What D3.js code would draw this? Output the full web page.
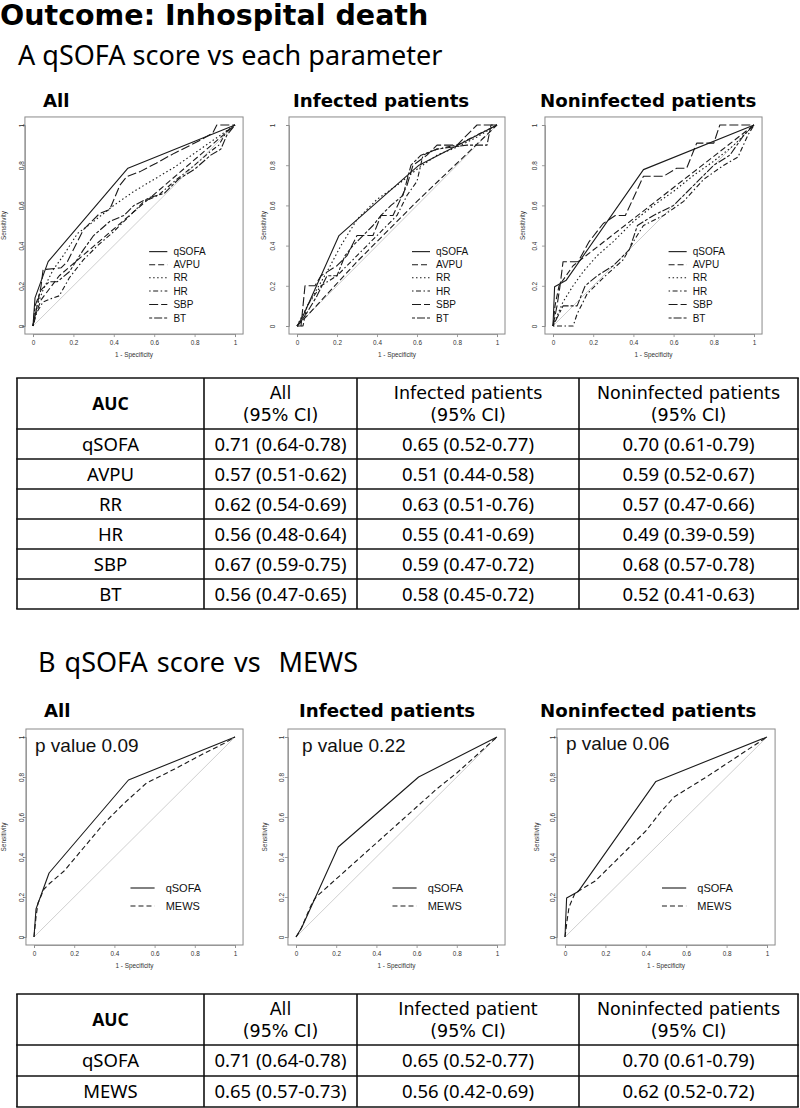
<!DOCTYPE html>
<html><head><meta charset="utf-8">
<script src="https://cdn.jsdelivr.net/npm/d3@7"></script>
<style>body{margin:0;background:#fff} svg{display:block}</style>
</head><body><svg id="c" width="800" height="1108"></svg>
<script>
// ---------------- DATA ----------------
const mainTitle = "Outcome: Inhospital death";
const titleA = "A qSOFA score vs each parameter";
const titleB = "B qSOFA score vs  MEWS";
const groups = ["All", "Infected patients", "Noninfected patients"];
const paramsA = ["qSOFA", "AVPU", "RR", "HR", "SBP", "BT"];
const paramsB = ["qSOFA", "MEWS"];
const pValuesB = ["p value 0.09", "p value 0.22", "p value 0.06"];
const tickValues = [0, 0.2, 0.4, 0.6, 0.8, 1];
const tickLabels = ["0", "0.2", "0.4", "0.6", "0.8", "1"];
const xAxisTitle = "1 - Specificity";
const yAxisTitle = "Sensitivity";

// ROC points: [1 - specificity, sensitivity]
// Panel A - All
const A_all_qSOFA = [[0,0],[0.01,0.14],[0.075,0.32],[0.47,0.785],[1,1]];
const A_all_AVPU  = [[0,0],[0.01,0.05],[0.04,0.13],[0.13,0.25],[1,1]];
const A_all_RR    = [[0,0],[0.02,0.1],[0.05,0.18],[0.1,0.28],[0.15,0.35],[0.22,0.46],[0.3,0.52],[0.4,0.6],[0.5,0.67],[0.6,0.73],[0.7,0.79],[0.8,0.86],[0.9,0.93],[1,1]];
const A_all_HR    = [[0,0],[0.02,0.07],[0.05,0.12],[0.1,0.14],[0.13,0.15],[0.18,0.24],[0.25,0.33],[0.32,0.4],[0.4,0.47],[0.5,0.57],[0.55,0.62],[0.62,0.65],[0.7,0.72],[0.8,0.8],[0.88,0.87],[0.92,0.9],[0.96,0.97],[1,1]];
const A_all_SBP   = [[0,0],[0.02,0.1],[0.04,0.2],[0.05,0.28],[0.14,0.29],[0.17,0.32],[0.25,0.48],[0.33,0.56],[0.38,0.58],[0.43,0.7],[0.464,0.743],[0.53,0.768],[0.61,0.81],[0.7,0.86],[0.83,0.925],[0.89,0.96],[0.91,1],[1,1]];
const A_all_BT    = [[0,0],[0.01,0.1],[0.04,0.18],[0.08,0.22],[0.12,0.22],[0.18,0.27],[0.25,0.38],[0.3,0.45],[0.38,0.52],[0.45,0.55],[0.5,0.6],[0.58,0.64],[0.65,0.66],[0.72,0.73],[0.8,0.78],[0.88,0.85],[0.93,0.88],[0.96,0.95],[1,1]];
// Panel A - Infected
const A_inf_qSOFA = [[0,0],[0.03,0.05],[0.21,0.45],[0.61,0.8],[1,1]];
const A_inf_AVPU  = [[0,0],[0.05,0.05],[0.3,0.32],[0.6,0.62],[1,1]];
const A_inf_RR    = [[0,0],[0.03,0.06],[0.08,0.15],[0.15,0.27],[0.22,0.4],[0.3,0.53],[0.4,0.63],[0.5,0.7],[0.6,0.78],[0.7,0.85],[0.8,0.89],[0.9,0.94],[1,1]];
const A_inf_HR    = [[0,0],[0.03,0],[0.05,0.1],[0.12,0.2],[0.2,0.25],[0.3,0.35],[0.4,0.45],[0.45,0.5],[0.5,0.55],[0.55,0.65],[0.6,0.72],[0.63,0.85],[0.7,0.88],[0.8,0.9],[0.9,0.95],[1,1]];
const A_inf_SBP   = [[0,0],[0.02,0],[0.04,0.2],[0.09,0.2],[0.12,0.25],[0.2,0.3],[0.25,0.35],[0.3,0.45],[0.38,0.45],[0.42,0.55],[0.48,0.55],[0.55,0.7],[0.58,0.8],[0.65,0.85],[0.7,0.9],[0.8,0.9],[0.9,1],[1,1]];
const A_inf_BT    = [[0,0],[0.04,0.05],[0.1,0.15],[0.15,0.25],[0.2,0.25],[0.24,0.35],[0.28,0.4],[0.33,0.45],[0.38,0.5],[0.42,0.55],[0.47,0.6],[0.53,0.65],[0.57,0.8],[0.62,0.85],[0.7,0.88],[0.85,0.9],[0.95,0.9],[0.97,1],[1,1]];
// Panel A - Noninfected
const A_non_qSOFA = [[0,0],[0.008,0.195],[0.066,0.228],[0.45,0.778],[1,1]];
const A_non_AVPU  = [[0,0],[0.01,0.1],[0.03,0.2],[0.1,0.3],[1,1]];
const A_non_RR    = [[0,0],[0.02,0.05],[0.05,0.12],[0.1,0.2],[0.15,0.27],[0.22,0.35],[0.3,0.42],[0.4,0.52],[0.5,0.6],[0.6,0.67],[0.7,0.75],[0.8,0.82],[0.9,0.9],[1,1]];
const A_non_HR    = [[0,0],[0.1,0],[0.12,0.06],[0.17,0.16],[0.25,0.24],[0.35,0.33],[0.4,0.42],[0.45,0.5],[0.55,0.55],[0.65,0.62],[0.75,0.73],[0.85,0.8],[0.92,0.84],[0.97,0.95],[1,1]];
const A_non_SBP   = [[0,0],[0.02,0.1],[0.035,0.2],[0.05,0.32],[0.125,0.32],[0.18,0.42],[0.25,0.51],[0.31,0.55],[0.36,0.55],[0.45,0.745],[0.55,0.745],[0.615,0.785],[0.665,0.785],[0.715,0.91],[0.8,0.91],[0.83,1],[1,1]];
const A_non_BT    = [[0,0],[0.05,0.1],[0.12,0.1],[0.16,0.2],[0.22,0.25],[0.3,0.3],[0.38,0.38],[0.42,0.5],[0.5,0.55],[0.6,0.6],[0.7,0.7],[0.8,0.8],[0.88,0.85],[0.95,0.95],[1,1]];
// Panel B
const B_all_qSOFA = [[0,0],[0.01,0.14],[0.075,0.32],[0.47,0.785],[1,1]];
const B_all_MEWS  = [[0,0],[0.01,0.1],[0.02,0.17],[0.05,0.24],[0.08,0.27],[0.15,0.33],[0.25,0.45],[0.35,0.57],[0.45,0.67],[0.56,0.77],[0.7,0.84],[0.85,0.92],[0.95,0.97],[1,1]];
const B_inf_qSOFA = [[0,0],[0.03,0.05],[0.21,0.45],[0.61,0.8],[1,1]];
const B_inf_MEWS  = [[0,0],[0.02,0.03],[0.05,0.1],[0.08,0.17],[0.1,0.2],[0.2,0.29],[0.3,0.38],[0.4,0.47],[0.5,0.56],[0.6,0.65],[0.7,0.74],[0.8,0.82],[0.9,0.91],[1,1]];
const B_non_qSOFA = [[0,0],[0.008,0.195],[0.066,0.228],[0.45,0.778],[1,1]];
const B_non_MEWS  = [[0,0],[0.01,0.08],[0.02,0.15],[0.05,0.22],[0.1,0.25],[0.15,0.28],[0.2,0.33],[0.3,0.43],[0.4,0.53],[0.47,0.62],[0.54,0.7],[0.7,0.8],[0.85,0.9],[1,1]];

// Tables
const tableHeaderA = ["AUC", "All", "Infected patients", "Noninfected patients"];
const tableHeaderB = ["AUC", "All", "Infected patient", "Noninfected patients"];
const ciLabel = "(95% CI)";
const tableA_all = ["0.71 (0.64-0.78)","0.57 (0.51-0.62)","0.62 (0.54-0.69)","0.56 (0.48-0.64)","0.67 (0.59-0.75)","0.56 (0.47-0.65)"];
const tableA_inf = ["0.65 (0.52-0.77)","0.51 (0.44-0.58)","0.63 (0.51-0.76)","0.55 (0.41-0.69)","0.59 (0.47-0.72)","0.58 (0.45-0.72)"];
const tableA_non = ["0.70 (0.61-0.79)","0.59 (0.52-0.67)","0.57 (0.47-0.66)","0.49 (0.39-0.59)","0.68 (0.57-0.78)","0.52 (0.41-0.63)"];
const tableB_all = ["0.71 (0.64-0.78)","0.65 (0.57-0.73)"];
const tableB_inf = ["0.65 (0.52-0.77)","0.56 (0.42-0.69)"];
const tableB_non = ["0.70 (0.61-0.79)","0.62 (0.52-0.72)"];

// ---------------- STYLE / LAYOUT ----------------
const dashes = {qSOFA:null, AVPU:"6,3", RR:"1.5,2.5", HR:"1.5,2.5,5,2.5", SBP:"9,3", BT:"3,2,8,2", MEWS:"5,3"};
const lineColor = "#1a1a1a";
const FT = "'DejaVu Sans', sans-serif";
const FN = "'Noto Sans', sans-serif";
const FR = "'Liberation Sans', Arial, sans-serif";

const svg = d3.select("#c");

svg.append("text").attr("x",0).attr("y",25).attr("font-family",FT).attr("font-weight","bold")
  .attr("font-size",28.5).attr("fill","#000").text(mainTitle);
svg.append("text").attr("x",18).attr("y",65).attr("font-family",FN)
  .attr("font-size",27).attr("fill","#000").text(titleA);
svg.append("text").attr("x",38).attr("y",672).attr("font-family",FN).style("white-space","pre")
  .attr("font-size",27).attr("word-spacing",2).attr("fill","#000").text(titleB);

const panelsA = [
  {x0:33, x1:235, y0:326, y1:125, titleX:43, titleY:107, yLab:22, sensX:4, data:{qSOFA:A_all_qSOFA,AVPU:A_all_AVPU,RR:A_all_RR,HR:A_all_HR,SBP:A_all_SBP,BT:A_all_BT}},
  {x0:297, x1:497, y0:326, y1:125, titleX:293, titleY:107, yLab:273, sensX:264, data:{qSOFA:A_inf_qSOFA,AVPU:A_inf_AVPU,RR:A_inf_RR,HR:A_inf_HR,SBP:A_inf_SBP,BT:A_inf_BT}},
  {x0:553, x1:754, y0:326, y1:125, titleX:540, titleY:107, yLab:535, sensX:523, data:{qSOFA:A_non_qSOFA,AVPU:A_non_AVPU,RR:A_non_RR,HR:A_non_HR,SBP:A_non_SBP,BT:A_non_BT}}
];
const panelsB = [
  {x0:34, x1:235, y0:937, y1:737, titleX:44, titleY:717, yLab:22, sensX:4, pX:35, pY:752, data:{qSOFA:B_all_qSOFA,MEWS:B_all_MEWS}},
  {x0:296, x1:497, y0:937, y1:737, titleX:299, titleY:717, yLab:282, sensX:265, pX:302, pY:752, data:{qSOFA:B_inf_qSOFA,MEWS:B_inf_MEWS}},
  {x0:565, x1:767, y0:937, y1:737, titleX:540, titleY:717, yLab:553, sensX:537, pX:566, pY:750, data:{qSOFA:B_non_qSOFA,MEWS:B_non_MEWS}}
];

function drawPanel(p, i, params, legendCfg, pText) {
  const x = d3.scaleLinear().domain([0,1]).range([p.x0, p.x1]);
  const y = d3.scaleLinear().domain([0,1]).range([p.y0, p.y1]);
  const bx0 = x(-0.04), bx1 = x(1.04), by0 = y(-0.04), by1 = y(1.04);
  const g = svg.append("g");

  g.append("text").attr("x",p.titleX).attr("y",p.titleY).attr("font-family",FT)
    .attr("font-weight","bold").attr("font-size",18.2).attr("fill","#000").text(groups[i]);

  g.append("line").attr("x1",x(0)).attr("y1",y(0)).attr("x2",x(1)).attr("y2",y(1))
    .attr("stroke","#c9c9c9").attr("stroke-width",0.9);

  g.append("rect").attr("x",bx0).attr("y",by1).attr("width",bx1-bx0).attr("height",by0-by1)
    .attr("fill","none").attr("stroke","#8a8a8a").attr("stroke-width",1);

  const xa = g.append("g").attr("transform",`translate(0,${by0})`)
    .call(d3.axisBottom(x).tickValues(tickValues).tickFormat((d,k)=>tickLabels[k]).tickSize(3).tickPadding(3));
  xa.select(".domain").attr("stroke","#8a8a8a").attr("stroke-width",0.8);
  xa.selectAll(".tick line").attr("stroke","#8a8a8a").attr("stroke-width",0.8);
  xa.selectAll("text").attr("font-family",FR).attr("font-size",6.4).attr("fill","#333");

  const ya = g.append("g").attr("transform",`translate(${bx0},0)`)
    .call(d3.axisLeft(y).tickValues(tickValues).tickFormat((d,k)=>tickLabels[k]).tickSize(3));
  ya.select(".domain").attr("stroke","#8a8a8a").attr("stroke-width",0.8);
  ya.selectAll(".tick line").attr("stroke","#8a8a8a").attr("stroke-width",0.8);
  ya.selectAll("text").attr("x",null).attr("dy",null)
    .attr("transform",`translate(${p.yLab - bx0 + 2.2},0) rotate(-90)`)
    .attr("text-anchor","middle").attr("font-family",FR).attr("font-size",6.4).attr("fill","#333");

  g.append("text").attr("x",(p.x0+p.x1)/2).attr("y",by0+23).attr("text-anchor","middle")
    .attr("font-family",FR).attr("font-size",6.4).attr("fill","#333").text(xAxisTitle);
  g.append("text").attr("transform",`translate(${p.sensX+2.2},${(p.y0+p.y1)/2}) rotate(-90)`)
    .attr("text-anchor","middle").attr("font-family",FR).attr("font-size",6.4).attr("fill","#333").text(yAxisTitle);

  const line = d3.line().x(d=>x(d[0])).y(d=>y(d[1]));
  params.slice().reverse().forEach(k => {
    g.append("path").datum(p.data[k]).attr("d",line).attr("fill","none")
      .attr("stroke",lineColor).attr("stroke-width",1.1)
      .attr("stroke-dasharray",dashes[k]).attr("stroke-linejoin","round");
  });

  params.forEach((k,j) => {
    const ly = y(legendCfg.rows[j]);
    g.append("line").attr("x1",x(legendCfg.l0)).attr("x2",x(legendCfg.l1)).attr("y1",ly).attr("y2",ly)
      .attr("stroke",lineColor).attr("stroke-width",1.1).attr("stroke-dasharray",dashes[k]);
    g.append("text").attr("x",x(legendCfg.t)).attr("y",ly).attr("dy","0.36em")
      .attr("font-family",FR).attr("font-size",legendCfg.fs).attr("fill","#111").text(k);
  });

  if (pText) {
    g.append("text").attr("x",p.pX).attr("y",p.pY).attr("font-family",FR)
      .attr("font-size",19).attr("fill","#111").text(pText);
  }
}

panelsA.forEach((p,i)=>drawPanel(p,i,paramsA,{l0:0.575,l1:0.665,t:0.695,fs:10,rows:[0.37,0.305,0.24,0.174,0.107,0.04]},null));
panelsB.forEach((p,i)=>drawPanel(p,i,paramsB,{l0:0.48,l1:0.6,t:0.655,fs:11,rows:[0.245,0.155]},pValuesB[i]));

// ---------------- TABLES ----------------
function drawTable(top, headerH, rowH, header, rowNames, cols) {
  const xs = [17, 204, 357, 579, 798];
  const nRows = rowNames.length;
  const bottom = top + headerH + rowH*nRows;
  const g = svg.append("g");
  const ys = [top, top+headerH];
  for (let r=1;r<=nRows;r++) ys.push(top+headerH+rowH*r);
  ys.forEach(yy => g.append("line").attr("x1",xs[0]-0.8).attr("x2",xs[4]+0.8).attr("y1",yy).attr("y2",yy)
    .attr("stroke","#111").attr("stroke-width",1.6));
  xs.forEach(xx => g.append("line").attr("x1",xx).attr("x2",xx).attr("y1",top).attr("y2",bottom)
    .attr("stroke","#111").attr("stroke-width",1.6));
  const hc = top + headerH/2;
  g.append("text").attr("x",(xs[0]+xs[1])/2).attr("y",hc).attr("dy","0.36em").attr("text-anchor","middle")
    .attr("font-family",FN).attr("font-weight","bold").attr("font-size",17.5).attr("fill","#000").text(header[0]);
  for (let c=1;c<4;c++) {
    const cx = (xs[c]+xs[c+1])/2;
    g.append("text").attr("x",cx).attr("y",hc-11).attr("dy","0.36em").attr("text-anchor","middle")
      .attr("font-family",FT).attr("font-size",17.5).attr("fill","#000").text(header[c]);
    g.append("text").attr("x",cx).attr("y",hc+11).attr("dy","0.36em").attr("text-anchor","middle")
      .attr("font-family",FT).attr("font-size",17.5).attr("fill","#000").text(ciLabel);
  }
  rowNames.forEach((name,r) => {
    const cy = top + headerH + rowH*r + rowH/2;
    const vals = [name, cols[0][r], cols[1][r], cols[2][r]];
    vals.forEach((v,c) => {
      g.append("text").attr("x",(xs[c]+xs[c+1])/2).attr("y",cy).attr("dy","0.36em").attr("text-anchor","middle")
        .attr("font-family",FN).attr("font-size",18.5).attr("fill","#000").text(v);
    });
  });
}
drawTable(378, 51, 30, tableHeaderA, paramsA, [tableA_all, tableA_inf, tableA_non]);
drawTable(994, 51, 31, tableHeaderB, paramsB, [tableB_all, tableB_inf, tableB_non]);
</script></body></html>
